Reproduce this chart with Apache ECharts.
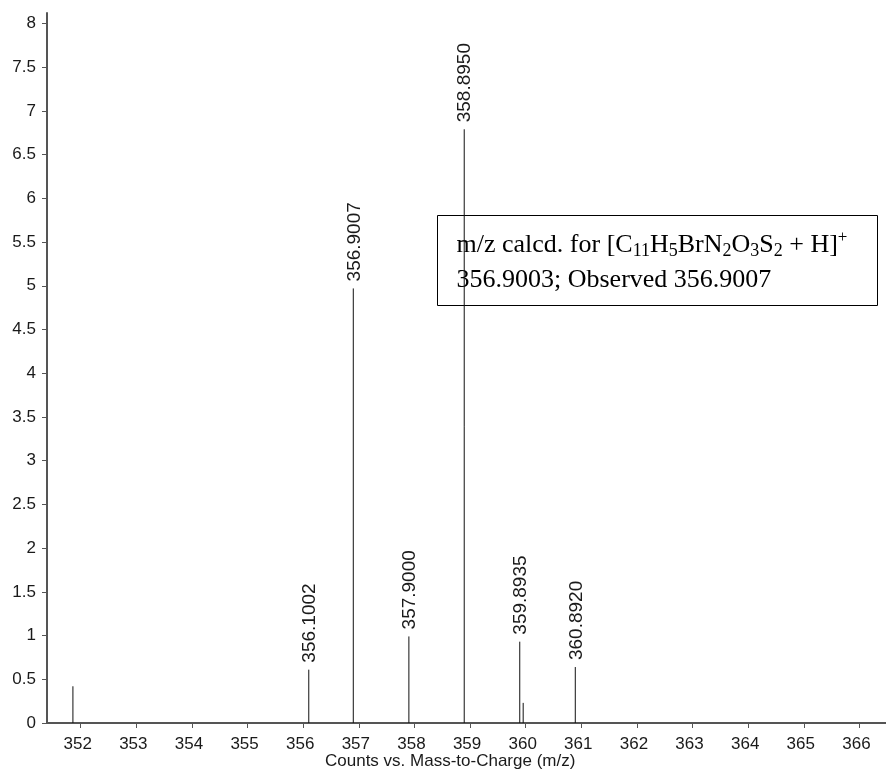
<!DOCTYPE html>
<html>
<head>
<meta charset="utf-8">
<style>
  html, body { margin: 0; padding: 0; background: #fff; }
  #chart { width: 886px; height: 771px; }
</style>
<script src="https://cdn.jsdelivr.net/npm/echarts@6/dist/echarts.min.js"></script>
</head>
<body>
<div id="chart"></div>
<script>
// Centroided mass spectrum peaks
const peakMz = [351.86, 356.1002, 356.9007, 357.9000, 358.8950, 359.8935, 359.955, 360.8920];
const peakCounts = [0.42, 0.61, 4.97, 0.99, 6.79, 0.93, 0.23, 0.64];
const peakLabels = ['', '356.1002', '356.9007', '357.9000', '358.8950', '359.8935', '', '360.8920'];

const xTicks = [352, 353, 354, 355, 356, 357, 358, 359, 360, 361, 362, 363, 364, 365, 366];
const yTicks = [0, 0.5, 1, 1.5, 2, 2.5, 3, 3.5, 4, 4.5, 5, 5.5, 6, 6.5, 7, 7.5, 8];

const xTitle = 'Counts vs. Mass-to-Charge (m/z)';

const chart = echarts.init(document.getElementById('chart'), null, { renderer: 'canvas' });

const axisColor = '#555';
const labelFont = 'Liberation Sans, Arial, sans-serif';
const serifFont = 'Liberation Serif, Times New Roman, serif';

const option = {
  animation: false,
  backgroundColor: '#fff',
  grid: { left: 47, right: 0, top: 13, bottom: 48, containLabel: false },
  xAxis: {
    type: 'value',
    min: 351.394,
    max: 366.478,
    axisLine: { show: true, lineStyle: { color: axisColor, width: 2 } },
    axisTick: { show: true, length: 5, lineStyle: { color: axisColor, width: 1 }, customValues: xTicks },
    axisLabel: {
      customValues: xTicks, color: '#1a1a1a', fontSize: 17, fontFamily: labelFont,
      margin: 13, padding: [0, 6, 0, 0]
    },
    splitLine: { show: false }
  },
  yAxis: {
    type: 'value',
    min: 0,
    max: 8.12,
    axisLine: { show: true, lineStyle: { color: axisColor, width: 2 } },
    axisTick: { show: true, length: 5, lineStyle: { color: axisColor, width: 1 }, customValues: yTicks },
    axisLabel: { customValues: yTicks, color: '#1a1a1a', fontSize: 17, fontFamily: labelFont, margin: 11 },
    splitLine: { show: false }
  },
  graphic: [
    {
      type: 'text',
      left: 325,
      top: 753,
      style: { text: xTitle, font: '17px ' + labelFont, fill: '#1a1a1a' }
    },
    {
      type: 'group',
      left: 437,
      top: 215,
      z: 100,
      children: [
        {
          type: 'rect',
          shape: { x: 0, y: 0, width: 440, height: 90 },
          style: { fill: '#fff', stroke: '#000', lineWidth: 1 }
        },
        {
          type: 'text',
          x: 19,
          y: 12,
          style: {
            text: '{n|m/z calcd. for [C}{s|11}{n|H}{s|5}{n|BrN}{s|2}{n|O}{s|3}{n|S}{s|2}{n| + H]}{p|+}\n{n|356.9003; Observed 356.9007}',
            fill: '#000',
            rich: {
              n: { fontFamily: serifFont, fontSize: 26, lineHeight: 35, color: '#000' },
              s: { fontFamily: serifFont, fontSize: 18, lineHeight: 35, padding: [12, 0, 0, 0], color: '#000' },
              p: { fontFamily: serifFont, fontSize: 17, lineHeight: 35, padding: [0, 0, 14, 0], color: '#000' }
            }
          }
        }
      ]
    }
  ],
  series: [
    {
      type: 'custom',
      data: peakMz.map((m, i) => [m, peakCounts[i]]),
      renderItem: function (params, api) {
        const mz = api.value(0);
        const c = api.value(1);
        const base = api.coord([mz, 0]);
        const top = api.coord([mz, c]);
        const children = [
          {
            type: 'line',
            shape: { x1: base[0], y1: base[1], x2: top[0], y2: top[1] },
            style: { stroke: '#111', lineWidth: 1 }
          }
        ];
        const label = peakLabels[params.dataIndex];
        if (label) {
          children.push({
            type: 'text',
            x: top[0] + 1,
            y: top[1] - 7,
            rotation: Math.PI / 2,
            style: {
              text: label, align: 'left', verticalAlign: 'middle',
              font: '19px ' + labelFont, fill: '#1a1a1a'
            }
          });
        }
        return { type: 'group', children: children };
      }
    }
  ]
};

chart.setOption(option);
</script>
</body>
</html>
